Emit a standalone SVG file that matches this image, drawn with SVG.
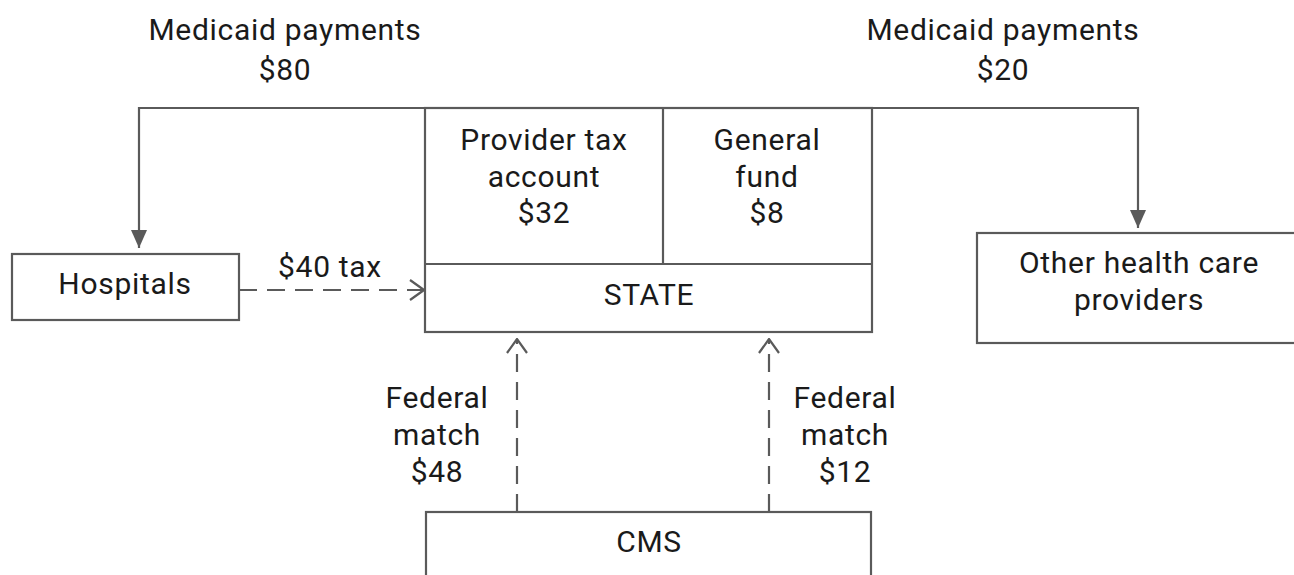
<svg xmlns="http://www.w3.org/2000/svg" width="1294" height="575" viewBox="0 0 1294 575">
<defs>
<style>
text{font-family:Roboto,"Liberation Sans",sans-serif;font-size:30px;letter-spacing:0.7px;fill:#1a1a1a;text-anchor:middle}
.box{fill:#fff;stroke:#5a5a5a;stroke-width:2.2}
.ln{fill:none;stroke:#5a5a5a;stroke-width:2.2}
.dash{fill:none;stroke:#5a5a5a;stroke-width:2.2;stroke-dasharray:18 10}
</style>
<marker id="solid" viewBox="0 0 18 16" refX="18" refY="8" markerWidth="18" markerHeight="16" markerUnits="userSpaceOnUse" orient="auto">
<path d="M0,0 L18,8 L0,16 Z" fill="#5a5a5a"/>
</marker>
<marker id="open" viewBox="0 0 16 22" refX="15" refY="11" markerWidth="16" markerHeight="22" markerUnits="userSpaceOnUse" orient="auto">
<path d="M1,1 L15,11 L1,21" fill="none" stroke="#5a5a5a" stroke-width="2.2"/>
</marker>
</defs>
<rect width="1294" height="575" fill="#fff"/>
<g id="connectors">
<path class="ln" d="M425,108 H139 V248" marker-end="url(#solid)"/>
<path class="ln" d="M872,108 H1138 V228" marker-end="url(#solid)"/>
<path class="dash" d="M239,290 H424" marker-end="url(#open)"/>
<path class="dash" d="M517,512 V339" marker-end="url(#open)"/>
<path class="dash" d="M769,512 V339" marker-end="url(#open)"/>
<text x="330" y="277">$40 tax</text>
<text x="285" y="40">Medicaid payments</text>
<text x="285" y="80">$80</text>
<text x="1003" y="40">Medicaid payments</text>
<text x="1003" y="80">$20</text>
<text x="437" y="408">Federal</text>
<text x="437" y="445">match</text>
<text x="437" y="482">$48</text>
<text x="845" y="408">Federal</text>
<text x="845" y="445">match</text>
<text x="845" y="482">$12</text>
</g>
<g id="state">
<rect class="box" x="425" y="108" width="447" height="224"/>
<line class="ln" x1="425" y1="264" x2="872" y2="264"/>
<line class="ln" x1="663" y1="108" x2="663" y2="264"/>
<text x="649" y="305">STATE</text>
</g>
<g id="provider-tax">
<text x="544" y="150">Provider tax</text>
<text x="544" y="187">account</text>
<text x="544" y="223">$32</text>
</g>
<g id="general-fund">
<text x="767" y="150">General</text>
<text x="767" y="187">fund</text>
<text x="767" y="223">$8</text>
</g>
<g id="hospitals">
<rect class="box" x="12" y="254" width="227" height="66"/>
<text x="125" y="294">Hospitals</text>
</g>
<g id="other">
<rect class="box" x="977" y="233" width="340" height="110"/>
<text x="1139" y="273">Other health care</text>
<text x="1139" y="310">providers</text>
</g>
<g id="cms">
<rect class="box" x="426" y="512" width="445" height="80"/>
<text x="649" y="552">CMS</text>
</g>
</svg>
